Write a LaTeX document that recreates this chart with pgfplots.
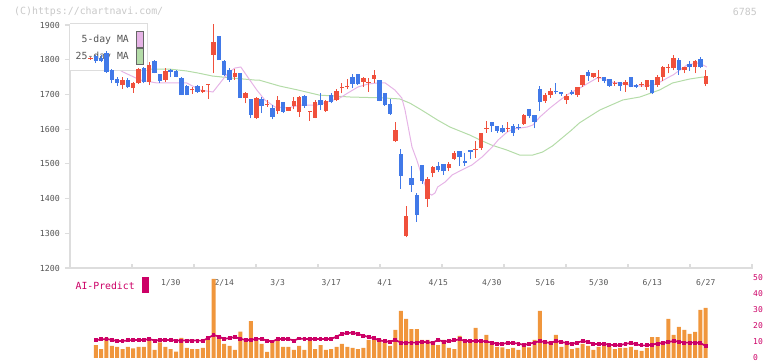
\documentclass[border=0pt]{standalone}
\usepackage{pgfplots}
\pgfplotsset{compat=1.18}
\usepackage{pgfplotstable}
\usepackage{fontspec}
\setmainfont{DejaVu Sans}
\newfontfamily\mono{DejaVu Sans Mono}
\definecolor{cred}{HTML}{F0503C}
\definecolor{cblue}{HTML}{4179E8}
\definecolor{cpink}{HTML}{E6B4E6}
\definecolor{cgreen}{HTML}{B4DCA8}
\definecolor{corange}{HTML}{F0963C}
\definecolor{cmag}{HTML}{CC0066}
\definecolor{caxis}{HTML}{DDDDDD}
\definecolor{ctick}{HTML}{555555}
\definecolor{ccopy}{HTML}{C8C8C8}

\pgfplotstableread{
i o h l c
-1 1804 1808 1800 1806
0 1810 1815 1790 1796
1 1806 1815 1792 1797
2 1820 1826 1762 1766
3 1770 1772 1732 1742
4 1744 1749 1724 1734
5 1727 1751 1715 1743
6 1742 1746 1718 1720
7 1718 1735 1705 1732
8 1732 1775 1730 1772
9 1777 1780 1732 1737
10 1737 1792 1727 1785
11 1796 1799 1761 1763
12 1759 1760 1732 1739
13 1742 1775 1737 1768
14 1770 1772 1749 1766
15 1768 1770 1749 1751
16 1746 1749 1698 1698
17 1724 1727 1697 1698
18 1712 1722 1701 1714
19 1725 1727 1705 1708
20 1708 1724 1705 1713
21 1728 1730 1687 1730
22 1814 1903 1761 1851
23 1869 1869 1799 1799
24 1797 1800 1752 1756
25 1770 1775 1737 1742
26 1751 1772 1742 1761
27 1761 1761 1689 1691
28 1689 1708 1674 1705
29 1687 1687 1631 1641
30 1633 1694 1630 1691
31 1687 1694 1646 1667
32 1671 1684 1665 1673
33 1662 1670 1628 1636
34 1653 1696 1644 1684
35 1678 1678 1646 1650
36 1653 1664 1652 1663
37 1667 1692 1657 1681
38 1650 1696 1636 1694
39 1696 1698 1662 1668
40 1649 1651 1624 1651
41 1633 1684 1631 1679
42 1684 1703 1655 1670
43 1652 1684 1650 1681
44 1698 1703 1674 1679
45 1684 1715 1681 1710
46 1719 1734 1703 1721
47 1721 1745 1715 1723
48 1749 1759 1718 1730
49 1759 1760 1728 1730
50 1737 1749 1722 1748
51 1732 1746 1708 1737
52 1745 1770 1734 1756
53 1742 1742 1680 1682
54 1703 1703 1668 1670
55 1672 1686 1641 1644
56 1565 1620 1563 1597
57 1527 1543 1428 1466
58 1292 1379 1288 1350
59 1458 1494 1420 1439
60 1410 1417 1333 1353
61 1497 1497 1442 1452
62 1399 1463 1377 1456
63 1475 1495 1461 1492
64 1494 1506 1477 1482
65 1500 1500 1468 1478
66 1487 1506 1478 1500
67 1514 1538 1511 1530
68 1537 1537 1494 1519
69 1508 1531 1494 1503
70 1540 1540 1513 1535
71 1541 1566 1518 1543
72 1547 1590 1540 1588
73 1600 1624 1590 1602
74 1621 1621 1593 1610
75 1609 1609 1590 1596
76 1604 1612 1588 1593
77 1601 1622 1593 1603
78 1609 1615 1580 1590
79 1606 1615 1598 1604
80 1615 1644 1612 1641
81 1657 1657 1631 1638
82 1641 1641 1602 1622
83 1716 1725 1653 1679
84 1682 1705 1676 1698
85 1698 1718 1689 1711
86 1709 1732 1701 1707
87 1706 1708 1696 1700
88 1684 1701 1672 1696
89 1706 1713 1697 1702
90 1698 1720 1694 1720
91 1727 1756 1722 1756
92 1766 1769 1740 1753
93 1749 1763 1746 1761
94 1748 1769 1737 1750
95 1749 1750 1732 1740
96 1745 1745 1722 1725
97 1731 1739 1724 1733
98 1735 1735 1711 1725
99 1727 1742 1708 1735
100 1749 1749 1720 1721
101 1727 1731 1718 1722
102 1728 1736 1722 1730
103 1722 1742 1714 1742
104 1742 1742 1701 1705
105 1727 1756 1722 1751
106 1751 1782 1740 1778
107 1777 1788 1761 1779
108 1775 1814 1769 1804
109 1799 1804 1756 1769
110 1769 1778 1761 1778
111 1788 1797 1768 1778
112 1778 1799 1761 1797
113 1801 1809 1775 1778
114 1730 1769 1724 1753
}\candles

\pgfplotstableread{
i p
-1 1800
1 1800
3 1785
5.1 1764.6
8.3 1741.5
11.4 1733
17 1733
19.5 1712.7
21.9 1707
24.7 1761.7
26 1776
27.1 1779
28.4 1750
30.1 1712.7
31.6 1684
33.5 1663.8
35.9 1661
38.2 1669.5
41.4 1669.5
43.2 1678
45.6 1689.7
47.1 1704
49 1721.4
50.9 1730
52.7 1733
54.1 1733
55.9 1712.7
57.2 1689.7
57.8 1655
58.4 1606
59.1 1548.5
60 1511
61.2 1453.4
62.1 1416
62.8 1410
63.4 1416
63.9 1433.3
65.3 1447.7
66.6 1468
68.4 1482.3
70.3 1496.7
72.2 1519.7
74.1 1548.5
75.2 1568.7
76.9 1591.8
78 1600.4
80.6 1606
81.7 1612
83 1635
84.9 1661
86.8 1684
88.6 1704
90.5 1718.5
92.4 1735.8
93.7 1747.3
94.8 1747.3
96.1 1735.8
97.9 1733
100.4 1724.3
102.3 1724.3
104.2 1727.1
105.5 1735.8
106.8 1747.3
107.9 1756
109.2 1770.4
110.5 1784.8
112.4 1790.5
113.5 1784.8
114.2 1779
}\maf

\pgfplotstableread{
i p
-1 1770
3 1771
7 1772
10.6 1773
13.8 1773
17 1767.5
19 1762
21.8 1753
25.6 1747
29.7 1741.5
30.6 1741
34.4 1724
37.7 1713
41.8 1698
47.5 1692.6
53.6 1690
56.8 1687
58.7 1675
60.9 1655
63.9 1626
66.2 1606
69.9 1583
71.8 1569
74 1554
76.8 1540
79.2 1525.5
81.7 1525.5
83.5 1534
85.4 1552
88.9 1597
90.4 1618
94.2 1655
98.5 1684
101.7 1692.6
105.4 1713
107.8 1733
111 1744.4
113.4 1750
114.2 1750
}\mas

\pgfplotstableread{
i v a
0 8.1 11.3
1 5.6 11.6
2 12.7 11.9
3 7.5 11.3
4 6.9 10.6
5 5.6 10.6
6 6.9 11.0
7 6.0 11.3
8 6.9 11.3
9 6.9 11.3
10 10.8 11.9
11 5.0 10.9
12 9.8 11.3
13 6.9 11.3
14 5.6 11.3
15 4.0 10.9
16 12.5 10.9
17 6.3 10.9
18 5.6 10.9
19 5.6 10.9
20 6.3 10.8
21 13.1 12.5
22 49.4 14.4
23 13.1 13.4
24 8.8 11.9
25 7.5 12.5
26 5.0 13.1
27 16.5 12.0
28 11.25 11.3
29 23.1 11.3
30 11.25 12.0
31 8.75 11.9
32 3.75 10.9
33 10.6 10.3
34 10.6 11.9
35 6.9 11.9
36 6.9 11.9
37 5.0 10.9
38 7.5 12.2
39 5.0 11.9
40 13.1 11.9
41 5.6 11.9
42 8.1 11.9
43 5.0 11.9
44 5.6 11.9
45 6.9 13.4
46 8.75 15.0
47 6.9 15.6
48 6.25 15.8
49 5.6 15.0
50 6.25 14.0
51 11.25 13.1
52 11.25 12.3
53 11.9 11.0
54 9.4 10.5
55 7.5 10.2
56 17.5 11.3
57 29.4 9.6
58 24.4 9.6
59 18.1 9.6
60 18.1 9.6
61 11.25 10.2
62 11.25 9.8
63 10.6 9.6
64 8.1 11.3
65 11.25 10.2
66 6.25 10.6
67 5.6 11.0
68 13.75 11.7
69 10.6 10.6
70 10.6 10.6
71 18.75 10.6
72 10.6 10.6
73 14.4 10.3
74 8.75 9.6
75 6.9 8.9
76 6.6 8.9
77 5.6 9.4
78 6.25 9.4
79 5.0 9.0
80 7.5 8.1
81 6.6 8.9
82 11.25 9.6
83 29.4 10.6
84 8.75 9.8
85 10.6 9.4
86 14.4 10.6
87 6.9 10.0
88 8.75 9.4
89 5.6 8.8
90 6.25 9.6
91 8.75 10.6
92 7.5 10.0
93 5.0 8.8
94 6.9 8.8
95 7.5 8.8
96 6.9 8.4
97 5.6 7.9
98 6.25 8.1
99 6.25 8.8
100 6.9 9.4
101 5.0 8.6
102 4.4 7.9
103 6.25 7.9
104 13.1 8.4
105 13.1 9.0
106 10.6 9.4
107 24.4 10.0
108 14.4 10.6
109 19.4 10.2
110 17.5 9.6
111 15.0 9.6
112 16.25 9.6
113 30.0 9.4
114 31.25 7.5
}\vol

\begin{document}
\begin{tikzpicture}
% ---------- main price panel ----------
\begin{axis}[
  at={(70pt,93pt)}, anchor=south west,
  scale only axis, width=682pt, height=243pt,
  xmin=-4.822, xmax=122.654, ymin=1200, ymax=1900,
  clip=false,
  axis lines*=left,
  axis line style={draw=caxis, line width=1.3pt},
  tick align=outside,
  major tick length=5pt,
  xtick={-4.822,6.767,18.356,29.945,41.534,53.123,64.712,76.301,87.890,99.479,111.068,122.654},
  xticklabels={},
  xtick style={draw=caxis, line width=1.2pt, yshift=4pt},
  ytick={1200,1300,...,1900},
  ytick style={draw=caxis, line width=1.2pt},
  yticklabel style={font=\mono\fontsize{8.3pt}{9pt}\selectfont, text=ctick, anchor=east, inner sep=0pt, xshift=-5pt,
     /pgf/number format/1000 sep={}},
  /pgf/number format/assume math mode=true,
  extra x ticks={14,24,34,44,54,64,74,84,94,104,114},
  extra x tick labels={1/30,2/14,3/3,3/17,4/1,4/15,4/30,5/16,5/30,6/13,6/27},
  extra x tick style={major tick length=0pt, tick style={draw=none},
     xticklabel style={font=\mono\fontsize{8pt}{9pt}\selectfont, text=ctick, anchor=center, yshift=-15pt}},
]
\addplot[cgreen, line width=1pt] table[x=i, y=p] {\mas};
\addplot[cpink, line width=1pt] table[x=i, y=p] {\maf};
% legend box
\fill[white] (axis cs:-4.822,1902.9) rectangle (axis cs:9.757,1767.5);
\draw[caxis, line width=1pt] (axis cs:-4.822,1902.9) -| (axis cs:9.757,1767.5) -- (axis cs:-4.822,1767.5);
\node[anchor=east, inner sep=0pt, text=ctick, font=\mono\fontsize{9.8pt}{10pt}\selectfont] at (axis cs:6.21,1856.8) {5-day MA};
\node[anchor=east, inner sep=0pt, text=ctick, font=\mono\fontsize{9.8pt}{10pt}\selectfont] at (axis cs:6.21,1807.8) {25-day MA};
\filldraw[fill=cpink, draw=gray!80!black, line width=0.8pt] (axis cs:7.51,1882.7) rectangle (axis cs:8.82,1836.6);
\filldraw[fill=cgreen, draw=gray!80!black, line width=0.8pt] (axis cs:7.51,1833.7) rectangle (axis cs:8.82,1787.6);
% candles: wicks (segments from low to high)
\addplot[cred, line width=1pt, -, forget plot,
  restrict expr to domain={\thisrow{c}-\thisrow{o}}{0:10000},
  quiver={u=0, v={\thisrow{h}-\thisrow{l}}}]
  table[x=i, y=l] {\candles};
\addplot[cblue, line width=1pt, -, forget plot,
  restrict expr to domain={\thisrow{c}-\thisrow{o}}{-10000:-0.001},
  quiver={u=0, v={\thisrow{h}-\thisrow{l}}}]
  table[x=i, y=l] {\candles};
% candles: bodies (segments from open to close)
\addplot[cred, line width=4.4pt, -, forget plot,
  restrict expr to domain={\thisrow{c}-\thisrow{o}}{0:10000},
  quiver={u=0, v={max(abs(\thisrow{c}-\thisrow{o}),2.6)}}]
  table[x=i, y expr={(\thisrow{o}+\thisrow{c})/2-max(abs(\thisrow{c}-\thisrow{o}),2.6)/2}] {\candles};
\addplot[cblue, line width=4.4pt, -, forget plot,
  restrict expr to domain={\thisrow{c}-\thisrow{o}}{-10000:-0.001},
  quiver={u=0, v={max(abs(\thisrow{c}-\thisrow{o}),2.6)}}]
  table[x=i, y expr={(\thisrow{o}+\thisrow{c})/2-max(abs(\thisrow{c}-\thisrow{o}),2.6)/2}] {\candles};
\end{axis}

% ---------- lower panel ----------
\begin{axis}[
  at={(70pt,3pt)}, anchor=south west,
  scale only axis, width=682pt, height=80pt,
  xmin=-4.822, xmax=122.654, ymin=0, ymax=50,
  clip=false,
  axis x line=none,
  axis y line*=right,
  y axis line style={draw=none},
  xtick=\empty,
  ytick={0,10,...,50},
  major tick length=0pt,
  ytick style={draw=none},
  yticklabel style={font=\mono\fontsize{8pt}{8pt}\selectfont, text=cmag, anchor=west, inner sep=0pt, xshift=1pt, yshift=0.8pt},
  /pgf/number format/assume math mode=true,
]
\addplot[ybar, bar width=4pt, fill=corange, draw=none] table[x=i, y=v] {\vol};
\addplot[cmag, line width=1.7pt, mark=square*, mark size=1.1pt, mark options={solid}] table[x=i, y=a] {\vol};
\end{axis}

% ---------- texts outside axes ----------
\node[anchor=west, inner sep=0pt, text=ccopy, font=\mono\fontsize{9.9pt}{10pt}\selectfont] at (14pt,349pt) {(C)https://chartnavi.com/};
\node[anchor=east, inner sep=0pt, text=ccopy, font=\mono\fontsize{9.9pt}{10pt}\selectfont] at (757pt,349pt) {6785};
\node[anchor=west, inner sep=0pt, text=cmag, font=\mono\fontsize{9.8pt}{10pt}\selectfont] at (75.5pt,75pt) {AI-Predict};
\fill[cmag] (142pt,68pt) rectangle (149pt,84pt);

\pgfresetboundingbox
\path[use as bounding box] (0pt,0pt) rectangle (772pt,361pt);
\end{tikzpicture}
\end{document}
